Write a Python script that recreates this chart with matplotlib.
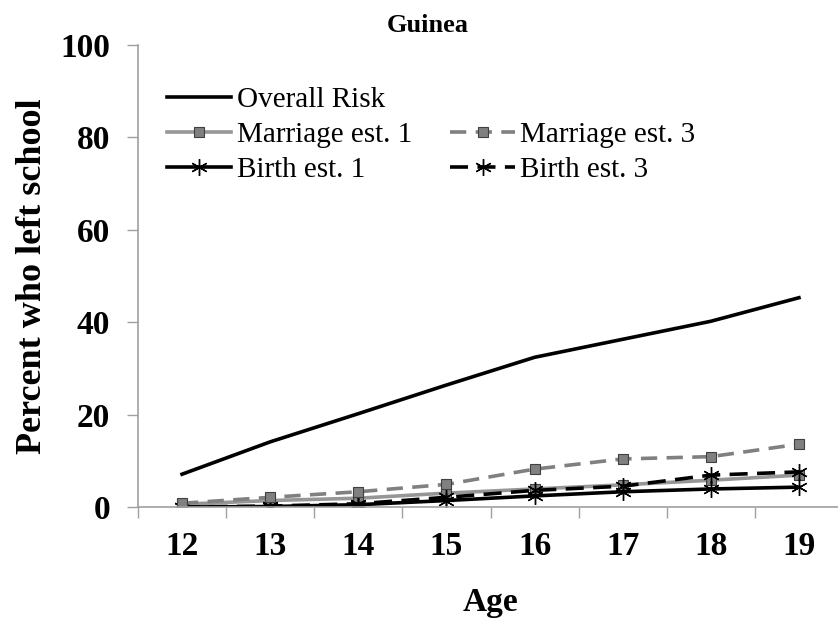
import matplotlib.pyplot as plt
from matplotlib.lines import Line2D
import numpy as np

ages = [12, 13, 14, 15, 16, 17, 18, 19]
overall_risk = [7.1, 14.1, 20.2, 26.4, 32.4, 36.3, 40.2, 45.3]
marriage_1 = [0.6, 1.4, 1.9, 3.0, 3.9, 4.8, 5.8, 6.9]
marriage_3 = [0.8, 2.1, 3.3, 4.9, 8.2, 10.4, 10.9, 13.6]
birth_1 = [0.0, 0.1, 0.5, 1.4, 2.4, 3.3, 3.9, 4.3]
birth_3 = [0.0, 0.2, 0.7, 2.1, 3.6, 4.5, 6.9, 7.6]

plt.rcParams['font.family'] = ['Liberation Serif', 'DejaVu Serif']

fig = plt.figure(figsize=(8.38, 6.30), dpi=100)
ax = fig.add_axes([138 / 838, 123 / 630, 705 / 838, 462 / 630])

grey = '#808080'
star = (6, 2, 0)

ax.plot(ages, overall_risk, color='black', lw=2.6, label='Overall Risk')
ax.plot(ages, marriage_1, color='#969696', lw=2.6, marker='s', ms=6.5,
        mfc=grey, mec='#404040', mew=0.8, label='Marriage est. 1')
ax.plot(ages, birth_1, color='black', lw=2.6, marker=star, ms=12,
        mec='black', mew=1.0, label='Birth est. 1')
ax.plot(ages, birth_3, color='black', lw=2.6, dashes=(5, 2.6), marker=star,
        ms=12, mec='black', mew=1.0, label='Birth est. 3')
ax.plot(ages, marriage_3, color=grey, lw=2.6, dashes=(4.5, 2.6), marker='s',
        ms=6.5, mfc=grey, mec='#404040', mew=0.8, label='Marriage est. 3')

ax.set_xlim(11.5, 19.5)
ax.set_ylim(0, 100)
ax.set_yticks(np.arange(0, 101, 20))
ax.set_xticks(ages)
ax.set_xticks(np.arange(11.5, 19.6, 1), minor=True)
ax.tick_params(axis='x', which='major', length=0, pad=17, labelsize=24)
ax.tick_params(axis='x', which='minor', length=8, color='#a0a0a0', width=1)
ax.tick_params(axis='y', length=8, color='#a0a0a0', width=1, pad=12, labelsize=24)
for lab in ax.get_xticklabels() + ax.get_yticklabels():
    lab.set_fontweight('bold')

for s in ['top', 'right']:
    ax.spines[s].set_visible(False)
for s in ['left', 'bottom']:
    ax.spines[s].set_color('#a0a0a0')
    ax.spines[s].set_linewidth(1.2)

ax.set_xlabel('Age', fontsize=24, fontweight='bold', labelpad=18)
ax.set_ylabel('Percent who left school', fontsize=26, fontweight='bold', labelpad=8)
fig.text(0.51, 0.96, 'Guinea', ha='center', va='center', fontsize=19, fontweight='bold')

h, l = ax.get_legend_handles_labels()
by = dict(zip(l, h))
blank = Line2D([], [], color='none')
handles = [by['Overall Risk'], by['Marriage est. 1'], by['Birth est. 1'],
           blank, by['Marriage est. 3'], by['Birth est. 3']]
labels = ['Overall Risk', 'Marriage est. 1', 'Birth est. 1',
          '', 'Marriage est. 3', 'Birth est. 3']
ax.legend(handles, labels, ncol=2, loc='upper left', bbox_to_anchor=(0.025, 0.935),
          frameon=False, fontsize=21, handlelength=2.2, handletextpad=0.2,
          labelspacing=0.3, columnspacing=1.3, borderaxespad=0)

fig.savefig('out.png', dpi=100)
